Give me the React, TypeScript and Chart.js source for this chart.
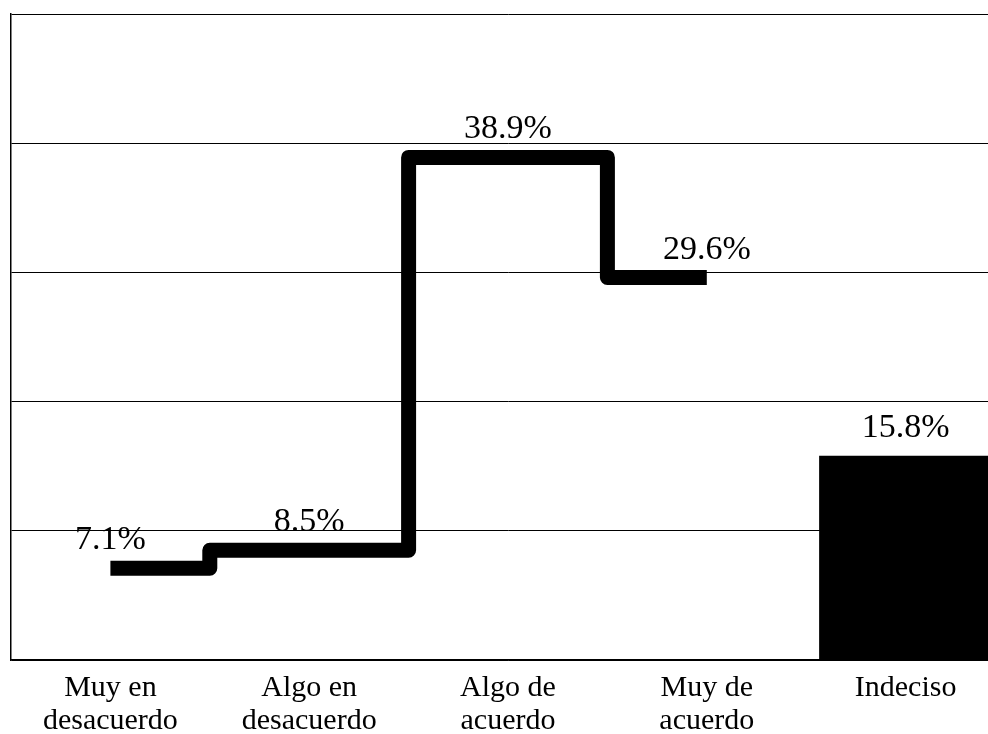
import React, { useEffect, useRef } from 'react';
import { Chart, registerables } from 'chart.js';

Chart.register(...registerables);

const categories: string[][] = [
  ['Muy en', 'desacuerdo'],
  ['Algo en', 'desacuerdo'],
  ['Algo de', 'acuerdo'],
  ['Muy de', 'acuerdo'],
  ['Indeciso'],
];
const stepValues: (number | null)[] = [7.1, 8.5, 38.9, 29.6, null];
const barValues: (number | null)[] = [null, null, null, null, 15.8];
const valueLabels: string[] = ['7.1%', '8.5%', '38.9%', '29.6%', '15.8%'];
const yMin = 0;
const yMax = 50;
const yStep = 10;

const FONT = "'Liberation Serif', 'Times New Roman', serif";

const valueLabelPlugin = {
  id: 'valueLabels',
  afterDatasetsDraw(chart: any) {
    const ctx = chart.ctx;
    ctx.save();
    ctx.font = `34px ${FONT}`;
    ctx.fillStyle = '#000';
    ctx.textAlign = 'center';
    ctx.textBaseline = 'alphabetic';
    chart.data.datasets.forEach((ds: any, di: number) => {
      const meta = chart.getDatasetMeta(di);
      meta.data.forEach((el: any, i: number) => {
        const v = ds.data[i];
        if (v === null || v === undefined) return;
        ctx.fillText(valueLabels[i], el.x, el.y - 19);
      });
    });
    ctx.restore();
  },
};

export default function App() {
  const ref = useRef<HTMLCanvasElement | null>(null);

  useEffect(() => {
    if (!ref.current) return;
    const chart = new Chart(ref.current, {
      type: 'bar',
      data: {
        labels: categories,
        datasets: [
          {
            type: 'line',
            data: stepValues,
            borderColor: '#000',
            borderWidth: 15,
            stepped: 'middle',
            pointRadius: 0,
            borderJoinStyle: 'round',
            borderCapStyle: 'butt',
            fill: false,
            spanGaps: false,
          } as any,
          {
            type: 'bar',
            data: barValues,
            backgroundColor: '#000',
            borderWidth: 0,
            categoryPercentage: 1,
            barPercentage: 0.87,
          } as any,
        ],
      },
      options: {
        animation: false,
        responsive: false,
        layout: { padding: { left: 11, top: 14, right: 0, bottom: 0 } },
        plugins: {
          legend: { display: false },
          tooltip: { enabled: false },
        },
        scales: {
          x: {
            offset: true,
            grid: { display: false, drawTicks: false },
            border: { display: true, color: '#000', width: 1.5 },
            ticks: {
              color: '#000',
              padding: 12,
              maxRotation: 0,
              autoSkip: false,
              font: { family: FONT, size: 30, lineHeight: 1.1 },
            },
          },
          y: {
            min: yMin,
            max: yMax,
            ticks: { display: false, stepSize: yStep },
            grid: { color: '#000', lineWidth: 1, drawTicks: false },
            border: { display: true, color: '#000', width: 1.5 },
          },
        },
      } as any,
      plugins: [valueLabelPlugin],
    });
    return () => chart.destroy();
  }, []);

  return (
    <div
      style={{
        position: 'fixed',
        left: 0,
        top: 0,
        width: 988,
        height: 734,
        overflow: 'hidden',
        background: '#fff',
      }}
    >
      <canvas ref={ref} width={1005} height={750} style={{ display: 'block' }} />
    </div>
  );
}
